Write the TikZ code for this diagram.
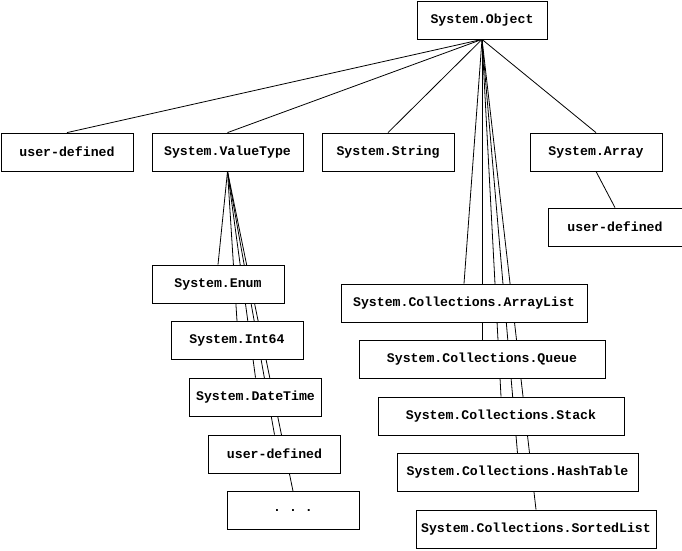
\documentclass[tikz,border=0pt]{standalone}
\usepackage{fontspec}
\setmonofont{Liberation Mono}
\usetikzlibrary{backgrounds}
\tikzset{clsbox/.style={draw,fill=white,line width=0.8pt,minimum width=132pt,minimum height=38pt,
    inner xsep=4pt,font=\fontsize{13.2}{15}\selectfont\ttfamily\bfseries},
  collbox/.style={clsbox,minimum width=243pt},
  inherit/.style={line width=0.8pt}}

\begin{document}
\begin{tikzpicture}[x=1pt,y=-1pt]
    \useasboundingbox (0,0) rectangle (682,550);
    % root and first level
    \node[clsbox,minimum width=130pt] (obj) at (482,20) {System.Object};
    \node[clsbox] (udl) at (67,152) {user-defined};
    \node[clsbox,minimum width=151pt] (vt) at (227.5,152) {System.ValueType};
    \node[clsbox] (str) at (388,152) {System.String};
    \node[clsbox] (arr) at (596,152) {System.Array};
    \node[clsbox,minimum width=134pt] (uda) at (615,227) {user-defined};
    % value types
    \node[clsbox] (enum) at (218,284) {System.Enum};
    \node[clsbox] (i64)  at (237,340.5) {System.Int64};
    \node[clsbox] (dt)   at (255.5,397) {System.DateTime};
    \node[clsbox] (udv)  at (274.5,454) {user-defined};
    \node[clsbox] (more) at (293,510.5) {.\ .\ .};
    % collections
    \node[collbox,minimum width=246pt] (alist) at (464,303) {System.Collections.ArrayList};
    \node[collbox,minimum width=246pt] (queue) at (482,359.5) {System.Collections.Queue};
    \node[collbox,minimum width=246pt] (stack) at (501,416) {System.Collections.Stack};
    \node[collbox,minimum width=241pt] (htab)  at (517.5,472.5) {System.Collections.HashTable};
    \node[collbox,minimum width=240pt] (slist) at (536,529) {System.Collections.SortedList};
    \begin{scope}[on background layer]
      \foreach \c in {udl,vt,str,arr,alist,queue,stack,htab,slist}
        \draw[inherit] (obj.south) -- (\c.north);
      \foreach \c in {enum,i64,dt,udv,more}
        \draw[inherit] (vt.south) -- (\c.north);
      \draw[inherit] (arr.south) -- (uda.north);
    \end{scope}
\end{tikzpicture}
\end{document}
